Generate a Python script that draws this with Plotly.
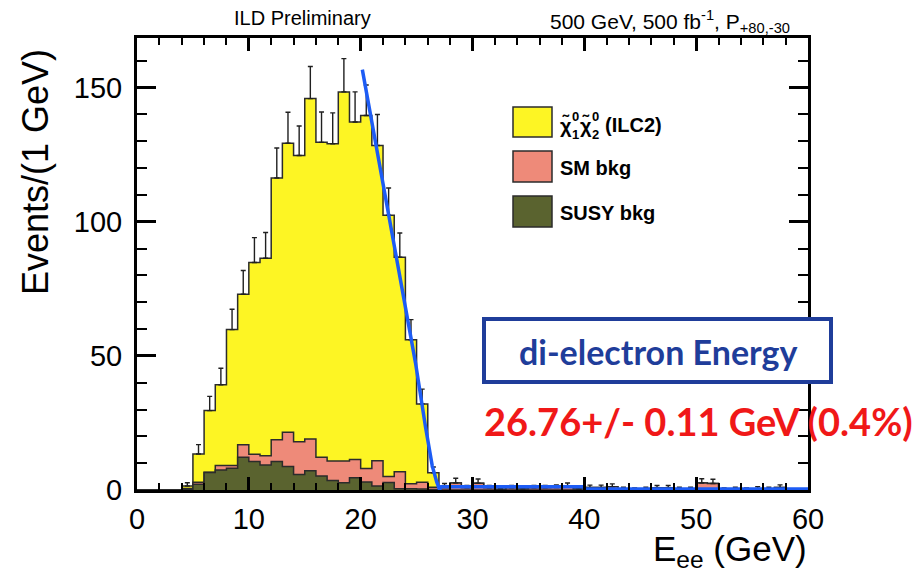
import plotly.graph_objects as go

# ---- histogram contents, 1 GeV bins from 0 to 60 GeV ----
bin_lo = list(range(0, 60))

# stacked total (signal + SM bkg + SUSY bkg)
total = [0, 0, 0, 0, 1.5, 13.4, 29.6, 39.2, 59.8, 73.0,
         84.8, 86.4, 116.3, 129.3, 124.7, 145.9, 129.6, 129.1, 148.4, 137.2,
         139.6, 128.4, 102.4, 86.8, 56.0, 32.1, 6.4, 1.2, 2.6, 0.8,
         2.5, 0.8, 0.3, 0.8, 0.4, 0.8, 0.8, 0.9, 1.4, 0.4,
         0.9, 0.9, 1.2, 0.4, 0.3, 0.4, 0.8, 0.8, 0.4, 0.4,
         2.6, 2.4, 0.3, 0.4, 0.3, 0.5, 0.4, 0.9, 0.1, 0]

# SM bkg stacked on SUSY bkg
bkg_stack = [0, 0, 0, 0, 0.6, 2.9, 6.6, 9.1, 9.1, 16.9,
             13.3, 12.8, 18.7, 21.5, 18.0, 19.0, 12.2, 10.8, 10.8, 11.4,
             8.0, 10.9, 5.0, 6.8, 2.3, 2.9, 1.0, 0.8, 2.6, 0.8,
             2.5, 0.8, 0.3, 0.8, 0.4, 0.8, 0.8, 0.9, 1.4, 0.4,
             0.9, 0.9, 1.2, 0.4, 0.3, 0.4, 0.8, 0.8, 0.4, 0.4,
             2.6, 2.4, 0.3, 0.4, 0.3, 0.5, 0.4, 0.9, 0.1, 0]

# SUSY bkg alone
susy = [0, 0, 0, 0, 0.2, 2.1, 6.5, 7.5, 8.1, 12.2,
        10.6, 9.3, 10.6, 8.8, 5.8, 7.2, 5.2, 3.5, 2.7, 4.6,
        3.0, 1.5, 2.8, 0.5, 0.5, 0.4, 0.2, 0, 0, 0,
        0, 0, 0, 0, 0, 0, 0, 0, 0, 0,
        0, 0, 0, 0, 0, 0, 0, 0, 0, 0,
        0, 0, 0, 0, 0, 0, 0, 0, 0, 0]

# statistical error on the total (upper half shown)
err_up = [0, 0, 0, 0, 1.2, 3.5, 5.3, 6.2, 7.6, 8.8,
          9.3, 9.6, 11.2, 11.5, 11.0, 12.0, 11.3, 11.5, 12.4, 11.2,
          11.4, 11.6, 10.2, 9.0, 7.5, 5.5, 2.2, 1.2, 1.8, 0.9,
          1.6, 0.9, 0.5, 0.9, 0.6, 0.9, 0.9, 1.0, 1.2, 0.6,
          0.9, 0.9, 1.1, 0.6, 0.5, 0.6, 0.9, 0.9, 0.6, 0.6,
          1.6, 1.6, 0.5, 0.6, 0.5, 0.7, 0.6, 1.0, 0.3, 0]

# edge fit
fit_e = [20.15, 21.5, 22.5, 23.55, 24.9, 25.8, 26.4, 26.8, 27.05, 27.2, 40.0, 40.0, 60.0]
fit_n = [156.7, 126.0, 102.5, 79.0, 47.5, 23.5, 9.0, 3.0, 0.2, 1.2, 1.2, 0.4, 0.4]

legend_labels = ["SM bkg", "SUSY bkg"]

C_SIG = "#fdf524"
C_SM = "#ee8a79"
C_SUSY = "#5a632f"
C_EDGE = "#2b2b2b"
C_FIT = "#1d5cf5"

W, H = 923, 578
L, R, T, B = 137, 808, 38, 490
X_RANGE = [0, 60]
Y_RANGE = [0, 168.5]


def px(x):
    return (x - L) / (R - L)


def py(y):
    return (B - y) / (B - T)


def step(vals):
    xs = bin_lo + [bin_lo[-1] + 1]
    ys = list(vals) + [vals[-1]]
    return xs, ys


fig = go.Figure()
for vals, col in ((total, C_SIG), (bkg_stack, C_SM), (susy, C_SUSY)):
    xs, ys = step(vals)
    fig.add_trace(go.Scatter(x=xs, y=ys, mode="lines", line_shape="hv",
                             fill="tozeroy", fillcolor=col,
                             line=dict(color=C_EDGE, width=1.5),
                             hoverinfo="skip", showlegend=False))

centers = [b + 0.5 for b, v in zip(bin_lo, total) if v > 0]
tops = [v for v in total if v > 0]
errs = [e for e, v in zip(err_up, total) if v > 0]
fig.add_trace(go.Scatter(x=centers, y=tops, mode="markers",
                         marker=dict(size=0.1, color="rgba(0,0,0,0)"),
                         error_y=dict(type="data", symmetric=False, array=errs,
                                      arrayminus=[0] * len(errs),
                                      color="#202020", thickness=1.4, width=2.5),
                         hoverinfo="skip", showlegend=False))

fig.add_trace(go.Scatter(x=fit_e, y=fit_n, mode="lines",
                         line=dict(color=C_FIT, width=3.5),
                         hoverinfo="skip", showlegend=False))

# invisible trace so the top/right tick axes are built
fig.add_trace(go.Scatter(x=[X_RANGE[0]], y=[Y_RANGE[0]], xaxis="x2", yaxis="y2",
                         mode="markers", marker=dict(opacity=0),
                         hoverinfo="skip", showlegend=False))

axis_font = dict(family="Liberation Sans, Arial, sans-serif", size=29, color="black")
common = dict(showline=True, linecolor="black", linewidth=3, mirror=True,
              ticks="inside", tickcolor="black", tickwidth=3,
              showgrid=False, zeroline=False, tickfont=axis_font)

xminor = dict(dtick=2, ticklen=7, tickwidth=2, ticks="inside", tickcolor="black")
yminor = dict(dtick=10, ticklen=10, tickwidth=2, ticks="inside", tickcolor="black")

fig.update_layout(
    xaxis=dict(range=X_RANGE, dtick=10, tick0=0, ticklen=13, minor=xminor,
               ticklabelstandoff=1, **common),
    yaxis=dict(range=Y_RANGE, dtick=50, tick0=0, ticklen=19, minor=yminor,
               ticklabelstandoff=6, **common),
    xaxis2=dict(range=X_RANGE, overlaying="x", side="top", anchor="y2",
                dtick=10, tick0=0, ticks="inside", ticklen=13, tickwidth=3,
                tickcolor="black", minor=xminor, showticklabels=False,
                showgrid=False, zeroline=False, showline=False),
    yaxis2=dict(range=Y_RANGE, overlaying="y", side="right", anchor="x2",
                dtick=50, tick0=0, ticks="inside", ticklen=19, tickwidth=3,
                tickcolor="black", minor=yminor, showticklabels=False,
                showgrid=False, zeroline=False, showline=False),
)

txt = "Liberation Sans, Arial, sans-serif"
ann = []
ann.append(dict(text="ILD Preliminary", x=px(232), y=py(18), xanchor="left", yanchor="middle",
                font=dict(family=txt, size=20, color="black")))
ann.append(dict(text="500 GeV, 500 fb<sup>-1</sup>, P<sub>+80,-30</sub>", x=px(792), y=py(21),
                xanchor="right", yanchor="middle", font=dict(family=txt, size=21, color="black")))
ann.append(dict(text="Events/(1 GeV)", x=px(35), y=py(172), xanchor="center", yanchor="middle",
                textangle=-90, font=dict(family=txt, size=36, color="black")))
ann.append(dict(text="E<sub>ee</sub> (GeV)", x=px(809), y=py(551), xanchor="right", yanchor="middle",
                font=dict(family=txt, size=35, color="black")))

# legend
shapes = []
box_rows = [(107, 137, C_SIG), (151, 182, C_SM), (196, 227, C_SUSY)]
for y0, y1, col in box_rows:
    shapes.append(dict(type="rect", xref="paper", yref="paper",
                       x0=px(513), x1=px(552), y0=py(y1), y1=py(y0),
                       fillcolor=col, line=dict(color=C_EDGE, width=1.5)))
bfont = dict(family=txt, size=20, color="black", weight="bold")
sfont = dict(family=txt, size=13, color="black", weight="bold")
# chi-tilde labels with stacked super/subscripts
ann.append(dict(text="χ̃", x=px(558), y=py(126), xanchor="left", yanchor="middle", font=bfont))
ann.append(dict(text="0", x=px(570), y=py(116), xanchor="left", yanchor="middle", font=sfont))
ann.append(dict(text="1", x=px(570), y=py(135), xanchor="left", yanchor="middle", font=sfont))
ann.append(dict(text="χ̃", x=px(578), y=py(126), xanchor="left", yanchor="middle", font=bfont))
ann.append(dict(text="0", x=px(590), y=py(116), xanchor="left", yanchor="middle", font=sfont))
ann.append(dict(text="2", x=px(590), y=py(135), xanchor="left", yanchor="middle", font=sfont))
ann.append(dict(text="(ILC2)", x=px(603), y=py(125), xanchor="left", yanchor="middle", font=bfont))
ann.append(dict(text=legend_labels[0], x=px(558), y=py(168), xanchor="left", yanchor="middle", font=bfont))
ann.append(dict(text=legend_labels[1], x=px(558), y=py(213), xanchor="left", yanchor="middle", font=bfont))

# fit result box
shapes.append(dict(type="rect", xref="paper", yref="paper",
                   x0=px(484), x1=px(831), y0=py(382), y1=py(319),
                   fillcolor="white", line=dict(color="#1f3d9a", width=4)))
ann.append(dict(text="di-electron Energy", x=px(658), y=py(351), xanchor="center", yanchor="middle",
                font=dict(family="Lato, sans-serif", size=34, color="#1f3d9a", weight="bold")))
ann.append(dict(text="26.76+/- 0.11 GeV (0.4%)", x=px(698), y=py(421), xanchor="center", yanchor="middle",
                font=dict(family="Lato, sans-serif", size=38, color="#f01818", weight="bold")))

for a in ann:
    a.update(xref="paper", yref="paper", showarrow=False)

fig.update_layout(width=W, height=H, margin=dict(l=L, r=W - R, t=T, b=H - B),
                  paper_bgcolor="white", plot_bgcolor="white",
                  annotations=ann, shapes=shapes, showlegend=False)

fig.write_html("out.html")
